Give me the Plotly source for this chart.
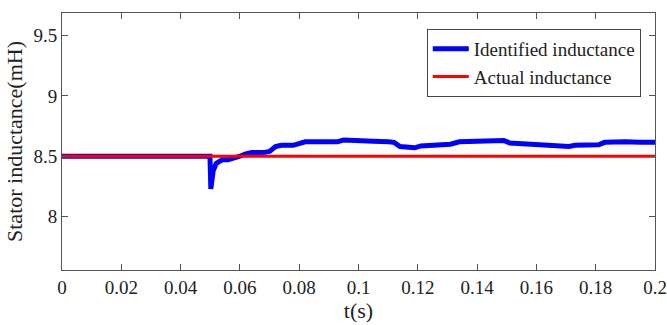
import plotly.graph_objects as go

t_ident = [0, 0.0499, 0.0502, 0.0505, 0.051, 0.052, 0.053, 0.054, 0.056, 0.058, 0.060, 0.062, 0.064, 0.068, 0.070, 0.072, 0.074, 0.078, 0.080, 0.082, 0.086, 0.090, 0.093, 0.095, 0.099, 0.101, 0.105, 0.110, 0.112, 0.114, 0.117, 0.119, 0.121, 0.125, 0.129, 0.131, 0.134, 0.138, 0.141, 0.145, 0.149, 0.151, 0.155, 0.158, 0.160, 0.164, 0.168, 0.171, 0.173, 0.178, 0.181, 0.183, 0.186, 0.190, 0.195, 0.2]
L_ident = [8.5, 8.5, 8.23, 8.30, 8.38, 8.44, 8.46, 8.47, 8.47, 8.48, 8.50, 8.52, 8.53, 8.53, 8.54, 8.58, 8.59, 8.59, 8.61, 8.62, 8.62, 8.62, 8.62, 8.635, 8.635, 8.625, 8.625, 8.62, 8.615, 8.58, 8.575, 8.57, 8.585, 8.59, 8.595, 8.60, 8.62, 8.62, 8.625, 8.625, 8.63, 8.61, 8.605, 8.60, 8.59, 8.59, 8.585, 8.58, 8.59, 8.59, 8.595, 8.615, 8.62, 8.62, 8.615, 8.615]
t_actual = [0, 0.2]
L_actual = [8.5, 8.5]

x_ticks = [0, 0.02, 0.04, 0.06, 0.08, 0.1, 0.12, 0.14, 0.16, 0.18, 0.2]
x_labels = ["0", "0.02", "0.04", "0.06", "0.08", "0.1", "0.12", "0.14", "0.16", "0.18", "0.2"]
y_ticks = [8, 8.5, 9, 9.5]
y_labels = ["8", "8.5", "9", "9.5"]

font = "Liberation Serif, Times New Roman, serif"

fig = go.Figure()
fig.add_trace(go.Scatter(x=t_ident, y=L_ident, mode="lines", name="Identified inductance",
                         line=dict(color="#0000ff", width=5)))
fig.add_trace(go.Scatter(x=t_actual, y=L_actual, mode="lines", name="Actual inductance",
                         line=dict(color="#ff0000", width=3)))

axis_common = dict(showgrid=False, zeroline=False, showline=True, linecolor="#555555", linewidth=1,
                   mirror="ticks", ticks="inside", ticklen=6, tickcolor="#555555", automargin=False,
                   tickfont=dict(family=font, size=19, color="#222222"))
fig.update_layout(
    width=667, height=325,
    margin=dict(l=62, r=12, t=13, b=55),
    plot_bgcolor="white", paper_bgcolor="white",
    font=dict(family=font, color="#222222"),
    xaxis=dict(range=[0, 0.2], tickvals=x_ticks, ticktext=x_labels,
               title=dict(text="t(s)", font=dict(family=font, size=22), standoff=2), **axis_common),
    yaxis=dict(range=[7.558, 9.686], tickvals=y_ticks, ticktext=y_labels,
               title=dict(text="Stator inductance(mH)", font=dict(family=font, size=22), standoff=4), **axis_common),
    legend=dict(x=0.976, y=0.938, xanchor="right", yanchor="top", bgcolor="white",
                bordercolor="#444444", borderwidth=1, font=dict(family=font, size=19, color="#222222"),
                tracegroupgap=0, itemwidth=36),
    showlegend=True,
)
fig.write_html("out.html")
